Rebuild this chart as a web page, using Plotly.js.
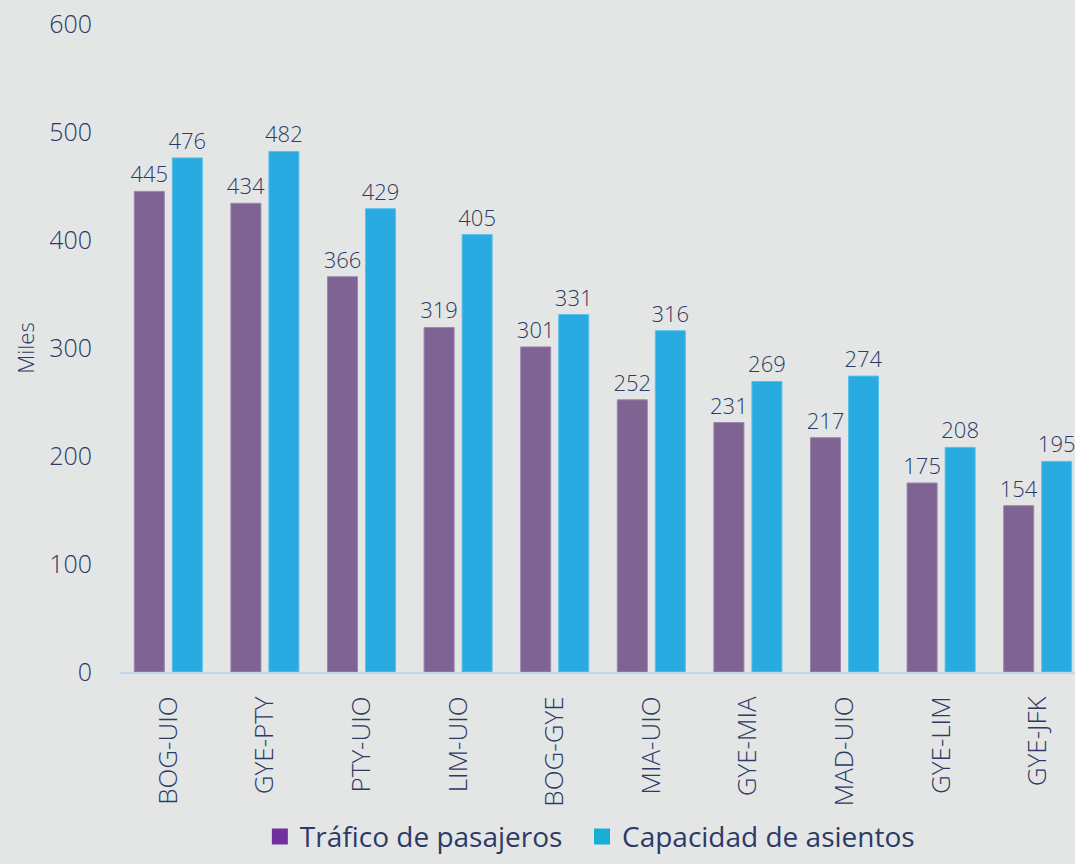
<!DOCTYPE html>
<html>
<head>
<meta charset="utf-8">
<script src="https://cdn.plot.ly/plotly-3.0.1.min.js"></script>
<style>html,body{margin:0;padding:0;background:#e4e6e5;}#chart{width:1075px;height:864px;}</style>
</head>
<body>
<div id="chart"></div>
<script>
const categories = ["BOG-UIO","GYE-PTY","PTY-UIO","LIM-UIO","BOG-GYE","MIA-UIO","GYE-MIA","MAD-UIO","GYE-LIM","GYE-JFK"];
const trafico = [445,434,366,319,301,252,231,217,175,154];
const capacidad = [476,482,429,405,331,316,269,274,208,195];
const seriesNames = ["Tráfico de pasajeros","Capacidad de asientos"];

const navy = "#2b3a66";
const fam = "'Open Sans', 'Noto Sans', sans-serif";
const labelFont = {family:fam, size:22, color:navy, weight:300};

const traces = [
  {type:"bar", x:categories, y:trafico, name:seriesNames[0], showlegend:false,
   marker:{color:"#7f6393", line:{color:"#9c86ae", width:1}},
   text:trafico.map(String), textposition:"outside", constraintext:"none", textfont:labelFont, cliponaxis:false, hoverinfo:"skip"},
  {type:"bar", x:categories, y:capacidad, name:seriesNames[1], showlegend:false,
   marker:{color:"#29abe2", line:{color:"#5cc0ea", width:1}},
   text:capacidad.map(String), textposition:"outside", constraintext:"none", textfont:labelFont, cliponaxis:false, hoverinfo:"skip"},
  {type:"scatter", mode:"markers", x:[null], y:[null], name:seriesNames[0] + "\u00a0\u00a0", marker:{color:"#7030a0", symbol:"square", size:18}, showlegend:true},
  {type:"scatter", mode:"markers", x:[null], y:[null], name:seriesNames[1], marker:{color:"#17b0d4", symbol:"square", size:18}, showlegend:true}
];

const layout = {
  width:1075, height:864,
  paper_bgcolor:"#e4e6e5", plot_bgcolor:"#e4e6e5",
  margin:{l:120, r:0, t:24, b:192},
  barmode:"group", bargap:0.213, bargroupgap:0.21,
  font:{family:fam, color:navy},
  xaxis:{type:"category", range:[-0.5, 9.386], tickangle:-90,
    tickfont:{family:fam, size:26, color:navy, weight:300},
    showline:true, linecolor:"#bdd7ee", linewidth:2, ticks:"outside", ticklen:12, tickcolor:"rgba(0,0,0,0)",
    showgrid:false, zeroline:false, fixedrange:true},
  yaxis:{range:[0,600], dtick:100, showgrid:false, zeroline:false, showline:false,
    tickfont:{family:fam, size:25, color:navy, weight:300},
    ticks:"outside", ticklen:22, tickcolor:"rgba(0,0,0,0)",
    title:{text:"Miles", font:{family:fam, size:22, color:navy, weight:300}, standoff:8}},
  showlegend:true,
  legend:{orientation:"h", x:0.492, xanchor:"center", y:-0.293, yanchor:"bottom",
    font:{family:fam, size:28, color:navy},
    bgcolor:"rgba(0,0,0,0)", itemwidth:30, traceorder:"normal"}
};

Plotly.newPlot("chart", traces, layout, {displayModeBar:false, staticPlot:true});
</script>
</body>
</html>
